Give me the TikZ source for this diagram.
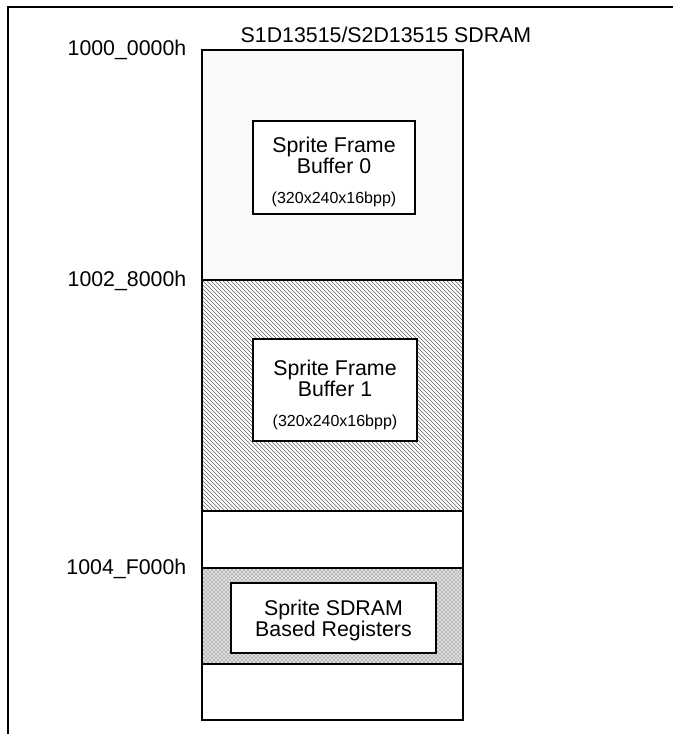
\documentclass[tikz,border=0pt]{standalone}
\usepackage{fontspec}
\setmainfont{Liberation Sans}
\usetikzlibrary{positioning}
\usetikzlibrary{patterns}

\begin{document}
\begin{tikzpicture}[x=0.75pt,y=-0.75pt,
    mapline/.style={line width=1.5pt},
    addrlabel/.style={anchor=base east,font=\fontsize{16}{16}\selectfont},
    bufbox/.style={draw,line width=1.5pt,fill=white,inner sep=0pt},
    boxtext/.style={align=center,inner sep=0pt,font=\fontsize{16}{15.5}\selectfont}]

    \useasboundingbox (0,0) rectangle (673,734);

    % outer frame
    \draw[mapline] (673,7) -- (8,7) -- (8,734);

    % memory column
    \coordinate (colTL) at (202,50);
    \coordinate (colBR) at (463,720);
    \fill[gray!5] (202,50) rectangle (463,280);
    \fill[pattern=north west lines,pattern color=black!60] (202,280) rectangle (463,511);
    \fill[gray!25] (202,568) rectangle (463,664);
    \fill[pattern=crosshatch dots,pattern color=black!75] (202,568) rectangle (463,664);
    \draw[mapline] (202,280) -- (463,280);
    \draw[mapline] (202,511) -- (463,511);
    \draw[mapline] (202,568) -- (463,568);
    \draw[mapline] (202,664) -- (463,664);
    \draw[mapline] (colTL) rectangle (colBR);

    \node[anchor=base,font=\fontsize{16}{16}\selectfont] (title) at (386,43) {S1D13515/S2D13515 SDRAM};

    \node[addrlabel] (addr0) at (191,56) {1000\_0000h};
    \node[addrlabel] (addr1) at (191,286) {1002\_8000h};
    \node[addrlabel] (addr2) at (191,574) {1004\_F000h};

    % boxes (sizes in pt: px times 0.75)
    \node[bufbox,minimum width=121.5pt,minimum height=69.75pt] (buf0) at (334,167.5) {};
    \node[bufbox,minimum width=123pt,minimum height=76.5pt] (buf1) at (335,390) {};
    \node[bufbox,minimum width=153.75pt,minimum height=52.5pt] (regs) at (333.5,618) {};

    \node[boxtext] (buf0txt) at ([yshift=-3.5pt]buf0.center)
        {Sprite Frame\\Buffer 0\\[7pt]{\fontsize{12}{12}\selectfont(320x240x16bpp)}};
    \node[boxtext] (buf1txt) at ([yshift=-3.5pt]buf1.center)
        {Sprite Frame\\Buffer 1\\[7pt]{\fontsize{12}{12}\selectfont(320x240x16bpp)}};
    \node[boxtext] (regstxt) at ([yshift=-2pt]regs.center)
        {Sprite SDRAM\\Based Registers};

\end{tikzpicture}
\end{document}
